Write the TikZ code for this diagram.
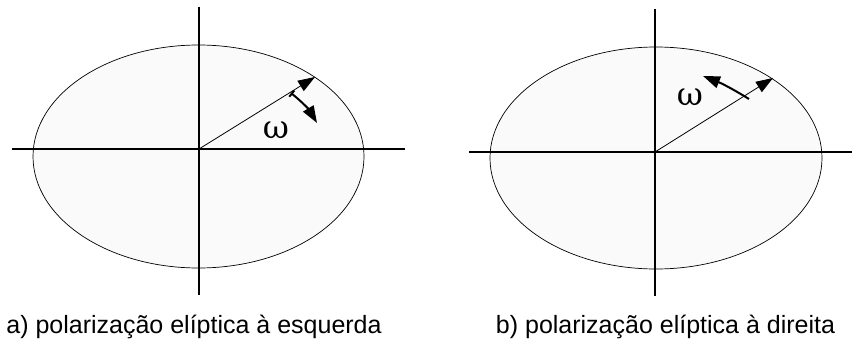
\documentclass[tikz,border=0pt]{standalone}
\usepackage{fontspec}
\setmainfont{Liberation Sans}
\newfontfamily\greekfont{DejaVu Serif}
\usetikzlibrary{arrows.meta}
\begin{document}
\begin{tikzpicture}[x=1pt,y=-1pt,
  axis/.style={line width=2pt},
  ell/.style={line width=0.7pt,fill=black!2},
  radius/.style={line width=0.8pt,-{Triangle[length=17pt,width=12pt]}},
  rot/.style={line width=2pt},
  omega/.style={font=\greekfont\fontsize{32}{32}\selectfont,inner sep=0pt},
  caption/.style={font=\fontsize{25}{28}\selectfont,inner sep=0pt,anchor=base}]
\useasboundingbox (0,0) rectangle (852,345);
% left panel
\coordinate (oa) at (199,149);
\coordinate (ta) at (199,7);
\coordinate (ba) at (199,295);
\coordinate (la) at (12,149);
\coordinate (ra) at (405,149);
\draw[ell] (198.5,156.5) ellipse [x radius=165.5pt, y radius=111.5pt];
\draw[axis] (ta) -- (ba);
\draw[axis] (la) -- (ra);
\coordinate (pa) at (315,77);
\draw[radius] (oa) -- (pa);
\coordinate (sa) at (291,93);
\coordinate (ea) at (317,123);
\draw[rot,{Bar[width=8pt]}-{Triangle[length=17pt,width=12pt]}] (sa) to[bend left=10] (ea);
\node[omega] (wa) at (276,130) {ω};
\node[caption] (capa) at (194,333) {a) polarização elíptica à esquerda};
% right panel
\coordinate (ob) at (655,152);
\coordinate (tb) at (655,9);
\coordinate (bb) at (655,296);
\coordinate (lb) at (469,152);
\coordinate (rb) at (852,152);
\draw[ell] (656,158) ellipse [x radius=166pt, y radius=111pt];
\draw[axis] (tb) -- (bb);
\draw[axis] (lb) -- (rb);
\coordinate (pb) at (773,78);
\draw[radius] (ob) -- (pb);
\coordinate (sb) at (749,99);
\coordinate (eb) at (703,76);
\draw[rot,-{Triangle[length=17pt,width=12pt]}] (sb) to[bend right=5] (eb);
\node[omega] (wb) at (690,97) {ω};
\node[caption] (capb) at (665.5,333) {b) polarização elíptica à direita};
\end{tikzpicture}
\end{document}
